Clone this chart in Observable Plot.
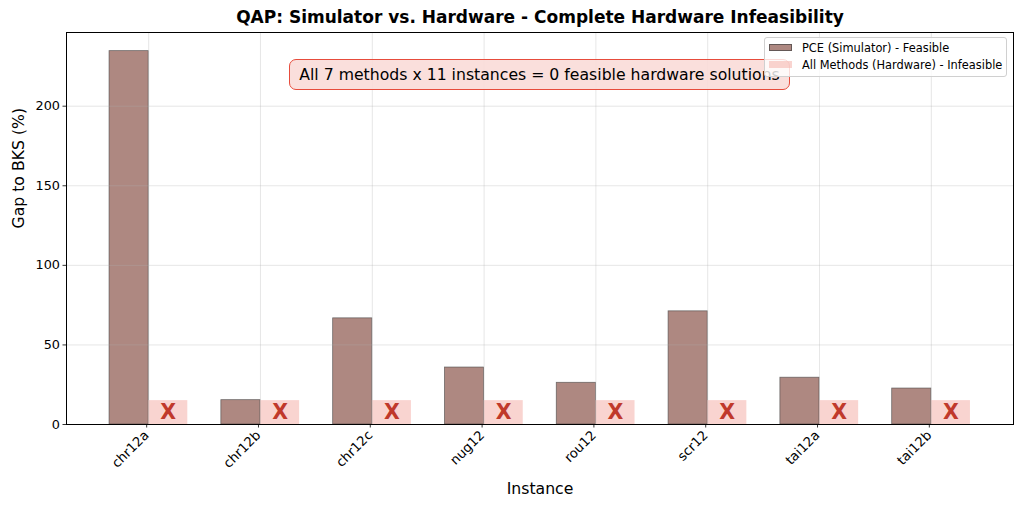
<!DOCTYPE html>
<html>
<head>
<meta charset="utf-8">
<script src="https://cdn.jsdelivr.net/npm/d3@7"></script>
<script src="https://cdn.jsdelivr.net/npm/@observablehq/plot@0.6"></script>
<style>
  html, body { margin: 0; padding: 0; background: #fff; }
  #wrap { position: relative; width: 1024px; height: 507px; font-family: "DejaVu Sans", sans-serif; }
  #wrap svg { position: absolute; left: 0; top: 0; }
  .note { position: absolute; left: 289px; top: 59px; width: 499px; height: 29px; border: 1px solid #e74c3c; border-radius: 7px;
          background: rgba(250,219,216,0.9); font-size: 15.7px; line-height: 29px; text-align: center; color: #000; box-sizing: content-box; white-space: nowrap; }
  .legend { position: absolute; left: 764px; top: 37px; width: 241px; height: 38px; border: 1px solid #d0d0d0; border-radius: 3px;
            background: rgba(255,255,255,0.8); font-size: 11.4px; color: #000; }
  .row { position: absolute; left: 4px; height: 14px; line-height: 14px; white-space: nowrap; }
  .sw { display: inline-block; width: 23px; height: 7px; vertical-align: middle; margin-right: 10px; box-sizing: border-box; position: relative; top: -1px; }
</style>
</head>
<body>
<div id="wrap"></div>
<script>
const categories = ["chr12a", "chr12b", "chr12c", "nug12", "rou12", "scr12", "tai12a", "tai12b"];
const pceGap = [234.6, 15.3, 66.7, 35.8, 26.2, 71.1, 29.4, 22.6];
const hardwareMarker = [15, 15, 15, 15, 15, 15, 15, 15];
const yTicks = [0, 50, 100, 150, 200];
const titleText = "QAP: Simulator vs. Hardware - Complete Hardware Infeasibility";
const noteText = "All 7 methods x 11 instances = 0 feasible hardware solutions";
const legendLabels = ["PCE (Simulator) - Feasible", "All Methods (Hardware) - Infeasible"];
const pceColor = "#8c564b";
const hwColor = "#f5b7b1";

const barW = 0.35;
const rows = categories.map((name, i) => ({ i, name, pce: pceGap[i], hw: hardwareMarker[i] }));
const idx = d3.range(categories.length);

const chart = Plot.plot({
  width: 1024,
  height: 507,
  marginLeft: 66,
  marginRight: 11,
  marginTop: 32,
  marginBottom: 83,
  style: { fontFamily: "DejaVu Sans, sans-serif", background: "white", color: "black" },
  x: { domain: [-0.735, 7.735] },
  y: { domain: [0, 246.3] },
  marks: [
    Plot.rectY(rows, { x1: d => d.i - barW, x2: d => d.i, y: "pce", fill: pceColor, fillOpacity: 0.7, stroke: "#444", strokeOpacity: 0.7, strokeWidth: 0.8, inset: 0 }),
    Plot.rectY(rows, { x1: d => d.i, x2: d => d.i + barW, y: "hw", fill: hwColor, fillOpacity: 0.6, inset: 0 }),
    Plot.gridX(idx, { stroke: "#b0b0b0", strokeOpacity: 0.4, strokeWidth: 0.8 }),
    Plot.gridY(yTicks.slice(1), { stroke: "#b0b0b0", strokeOpacity: 0.4, strokeWidth: 0.8 }),
    Plot.text(rows, { x: d => d.i + barW / 2, y: d => d.hw / 2, text: () => "X", fill: "#c0392b", fontWeight: "bold", fontSize: 20.5, lineAnchor: "middle" }),
    Plot.axisY(yTicks, { tickSize: 3.5, tickPadding: 3, fontSize: 12.8, label: null, strokeWidth: 0.8 }),
    Plot.axisX(idx, { tickFormat: i => categories[i], tickRotate: -45, tickSize: 3.5, tickPadding: 5, dx: -2, fontSize: 13.2, label: null, strokeWidth: 0.8 }),
    Plot.frame({ stroke: "black", strokeWidth: 1 }),
    Plot.text([titleText], { frameAnchor: "top", dy: -15, fontSize: 17, fontWeight: "bold", lineAnchor: "middle" }),
    Plot.text(["Gap to BKS (%)"], { frameAnchor: "left", dx: -48, rotate: -90, fontSize: 15.7, lineAnchor: "middle" }),
    Plot.text(["Instance"], { frameAnchor: "bottom", dy: 64, fontSize: 15.7, lineAnchor: "middle" })
  ]
});

const wrap = document.getElementById("wrap");
wrap.appendChild(chart);

const note = document.createElement("div");
note.className = "note";
note.textContent = noteText;
wrap.appendChild(note);

const legend = document.createElement("div");
legend.className = "legend";
const swatchStyles = [
  { bg: "rgba(140,86,75,0.7)", border: "1px solid rgba(68,68,68,0.7)" },
  { bg: "rgba(245,183,177,0.6)", border: "none" }
];
legendLabels.forEach((lab, k) => {
  const r = document.createElement("div");
  r.className = "row";
  r.style.top = (3 + k * 17) + "px";
  const sw = document.createElement("span");
  sw.className = "sw";
  sw.style.background = swatchStyles[k].bg;
  sw.style.border = swatchStyles[k].border;
  r.appendChild(sw);
  r.appendChild(document.createTextNode(lab));
  legend.appendChild(r);
});
wrap.appendChild(legend);
</script>
</body>
</html>
